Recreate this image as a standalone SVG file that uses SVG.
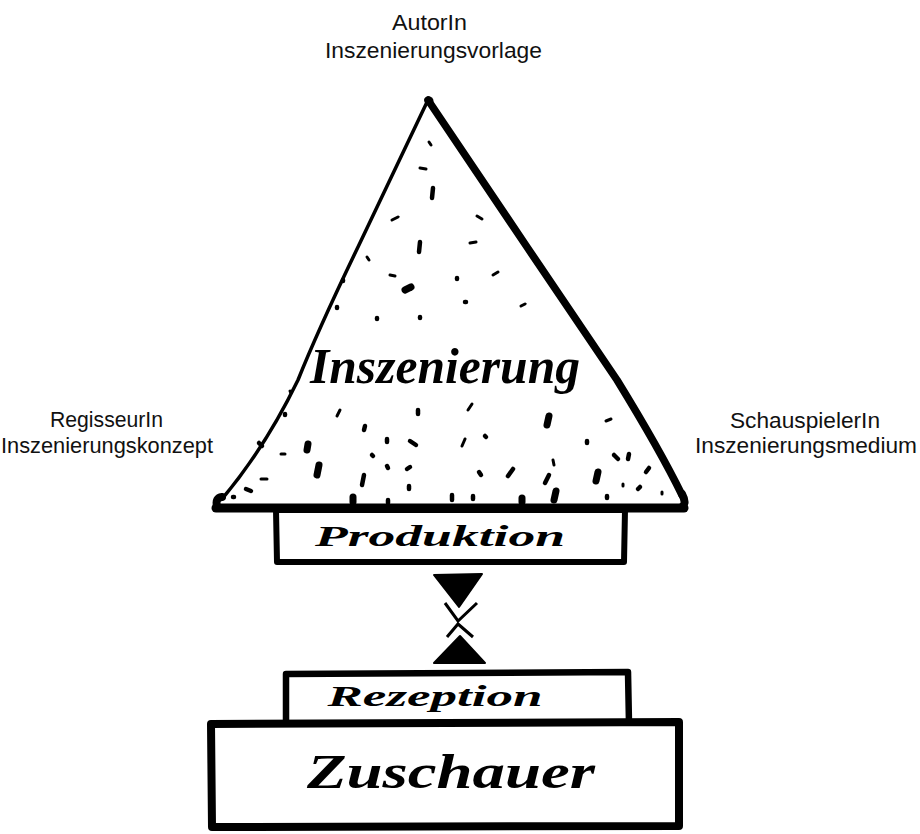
<svg xmlns="http://www.w3.org/2000/svg" width="920" height="834" viewBox="0 0 920 834">
<style>
.lbl{font-family:"Liberation Sans","Noto Sans",Arial,sans-serif;font-size:22px;fill:#111}
.hand{font-family:"Liberation Serif","DejaVu Serif",serif;font-style:italic;font-weight:bold;fill:#000}
.box{fill:#fff;stroke:#000;stroke-linejoin:round}
.sp line{stroke:#000;stroke-linecap:round}
.s{stroke-width:3}
.m{stroke-width:4.5}
.b{stroke-width:7}
</style>
<rect width="920" height="834" fill="#fff"/>

<g id="autor">
<text class="lbl" x="392" y="30" textLength="75" lengthAdjust="spacingAndGlyphs">AutorIn</text>
<text class="lbl" x="325" y="58" textLength="217" lengthAdjust="spacingAndGlyphs">Inszenierungsvorlage</text>
</g>
<g id="regisseur">
<text class="lbl" x="50" y="427" textLength="113" lengthAdjust="spacingAndGlyphs">RegisseurIn</text>
<text class="lbl" x="1" y="453" textLength="212" lengthAdjust="spacingAndGlyphs">Inszenierungskonzept</text>
</g>
<g id="schauspieler">
<text class="lbl" x="730" y="428" textLength="150" lengthAdjust="spacingAndGlyphs">SchauspielerIn</text>
<text class="lbl" x="695" y="453" textLength="222" lengthAdjust="spacingAndGlyphs">Inszenierungsmedium</text>
</g>

<g id="inszenierung">
<path d="M428,100 L527,247 L617,380 Q660,450 684,496 L684,507 L218,507 L222,497 Q262,450 298,380 L358,247 Z" fill="#fff"/>
<path d="M428,100 L358,247 Q318,330 298,380 Q265,448 222,499" fill="none" stroke="#000" stroke-width="3.5" stroke-linecap="round" stroke-linejoin="round"/>
<path d="M428,100 L527,247 L617,380 Q660,450 682,495" fill="none" stroke="#000" stroke-width="7.5" stroke-linecap="round" stroke-linejoin="round"/>
<circle cx="429" cy="101" r="4.5" fill="#000"/>
<path d="M217,506 Q215,498 222,497 M682,494 Q688,505 680,508 L218,508" fill="none" stroke="#000" stroke-width="8" stroke-linecap="round"/>
<g class="sp">
<line class="s" x1="429" y1="142" x2="431" y2="145"/>
<line class="s" x1="420" y1="168" x2="426" y2="169"/>
<line class="m" x1="433" y1="188" x2="432" y2="198"/>
<line class="s" x1="392" y1="220" x2="398" y2="217"/>
<line class="s" x1="477" y1="216" x2="482" y2="219"/>
<line class="m" x1="420" y1="242" x2="419" y2="252"/>
<line class="s" x1="470" y1="243" x2="476" y2="242"/>
<line class="s" x1="367" y1="257" x2="369" y2="260"/>
<line class="m" x1="343" y1="280" x2="343" y2="281"/>
<line class="s" x1="390" y1="275" x2="395" y2="276"/>
<line class="b" x1="405" y1="290" x2="411" y2="287"/>
<line class="m" x1="457" y1="278" x2="457" y2="279"/>
<line class="s" x1="493" y1="275" x2="498" y2="272"/>
<line class="m" x1="337" y1="307" x2="337" y2="308"/>
<line class="m" x1="377" y1="318" x2="377" y2="319"/>
<line class="m" x1="420" y1="317" x2="420" y2="318"/>
<line class="m" x1="465" y1="302" x2="466" y2="302"/>
<line class="s" x1="521" y1="306" x2="525" y2="304"/>
<line class="s" x1="290" y1="391" x2="291" y2="393"/>
<line class="m" x1="285" y1="414" x2="285" y2="415"/>
<line class="s" x1="337" y1="416" x2="340" y2="410"/>
<line class="m" x1="418" y1="410" x2="418" y2="414"/>
<line class="s" x1="468" y1="410" x2="472" y2="404"/>
<line class="b" x1="549" y1="416" x2="547" y2="425"/>
<line class="s" x1="606" y1="421" x2="611" y2="419"/>
<line class="m" x1="365" y1="426" x2="364" y2="430"/>
<line class="m" x1="387" y1="439" x2="387" y2="442"/>
<line class="m" x1="410" y1="441" x2="416" y2="445"/>
<line class="s" x1="462" y1="446" x2="465" y2="439"/>
<line class="m" x1="485" y1="436" x2="486" y2="437"/>
<line class="m" x1="587" y1="441" x2="587" y2="443"/>
<line class="m" x1="259" y1="443" x2="262" y2="446"/>
<line class="s" x1="281" y1="454" x2="285" y2="454"/>
<line class="b" x1="308" y1="444" x2="307" y2="450"/>
<line class="m" x1="372" y1="455" x2="373" y2="456"/>
<line class="b" x1="319" y1="465" x2="317" y2="475"/>
<line class="m" x1="387" y1="466" x2="388" y2="468"/>
<line class="m" x1="407" y1="469" x2="410" y2="467"/>
<line class="m" x1="364" y1="475" x2="362" y2="485"/>
<line class="m" x1="479" y1="472" x2="481" y2="475"/>
<line class="m" x1="508" y1="476" x2="513" y2="469"/>
<line class="s" x1="553" y1="460" x2="554" y2="465"/>
<line class="m" x1="614" y1="455" x2="618" y2="459"/>
<line class="m" x1="629" y1="454" x2="628" y2="459"/>
<line class="b" x1="598" y1="472" x2="596" y2="481"/>
<line class="s" x1="623" y1="484" x2="623" y2="486"/>
<line class="m" x1="545" y1="483" x2="549" y2="475"/>
<line class="m" x1="646" y1="472" x2="649" y2="468"/>
<line class="s" x1="261" y1="479" x2="267" y2="479"/>
<line class="m" x1="246" y1="489" x2="251" y2="491"/>
<line class="m" x1="233" y1="497" x2="234" y2="497"/>
<line class="m" x1="409" y1="486" x2="409" y2="489"/>
<line class="m" x1="638" y1="489" x2="640" y2="487"/>
<line class="m" x1="607" y1="496" x2="607" y2="498"/>
<line class="s" x1="662" y1="492" x2="662" y2="494"/>
<line class="b" x1="353" y1="497" x2="353" y2="502"/>
<line class="m" x1="388" y1="500" x2="388" y2="503"/>
<line class="m" x1="452" y1="495" x2="452" y2="500"/>
<line class="m" x1="473" y1="496" x2="473" y2="499"/>
<line class="b" x1="522" y1="498" x2="522" y2="502"/>
<line class="b" x1="556" y1="491" x2="554" y2="500"/>
</g>
<text class="hand" x="445" y="383" font-size="50" text-anchor="middle" textLength="270" lengthAdjust="spacingAndGlyphs">Inszenierung</text>
</g>

<g id="produktion">
<path class="box" d="M276,510 L625,510 L624,562 L277,562 Z" stroke-width="6"/>
<line x1="216" y1="508" x2="684" y2="508" stroke="#000" stroke-width="9" stroke-linecap="round"/>
<text class="hand" x="440" y="546" font-size="30" text-anchor="middle" textLength="250" lengthAdjust="spacingAndGlyphs">Produktion</text>
</g>

<g id="connectors">
<polygon points="434,575 482,574 459,607" fill="#000" stroke="#000" stroke-width="2" stroke-linejoin="round"/>
<polyline points="445,603 458,621 477,603" fill="none" stroke="#000" stroke-width="3"/>
<polyline points="447,637 458,624 473,637" fill="none" stroke="#000" stroke-width="3"/>
<polygon points="460,636 434,663 485,663" fill="#000" stroke="#000" stroke-width="2" stroke-linejoin="round"/>
</g>

<g id="rezeption">
<path class="box" d="M286,674 L628,672 L629,724 L286,724 Z" stroke-width="6.5"/>
<text class="hand" x="435" y="706" font-size="29" text-anchor="middle" textLength="215" lengthAdjust="spacingAndGlyphs">Rezeption</text>
</g>

<g id="zuschauer">
<path class="box" d="M211,724 L679,722 L679,826 L212,827 Z" stroke-width="8"/>
<text class="hand" x="451" y="788" font-size="48" text-anchor="middle" textLength="288" lengthAdjust="spacingAndGlyphs">Zuschauer</text>
</g>
</svg>
